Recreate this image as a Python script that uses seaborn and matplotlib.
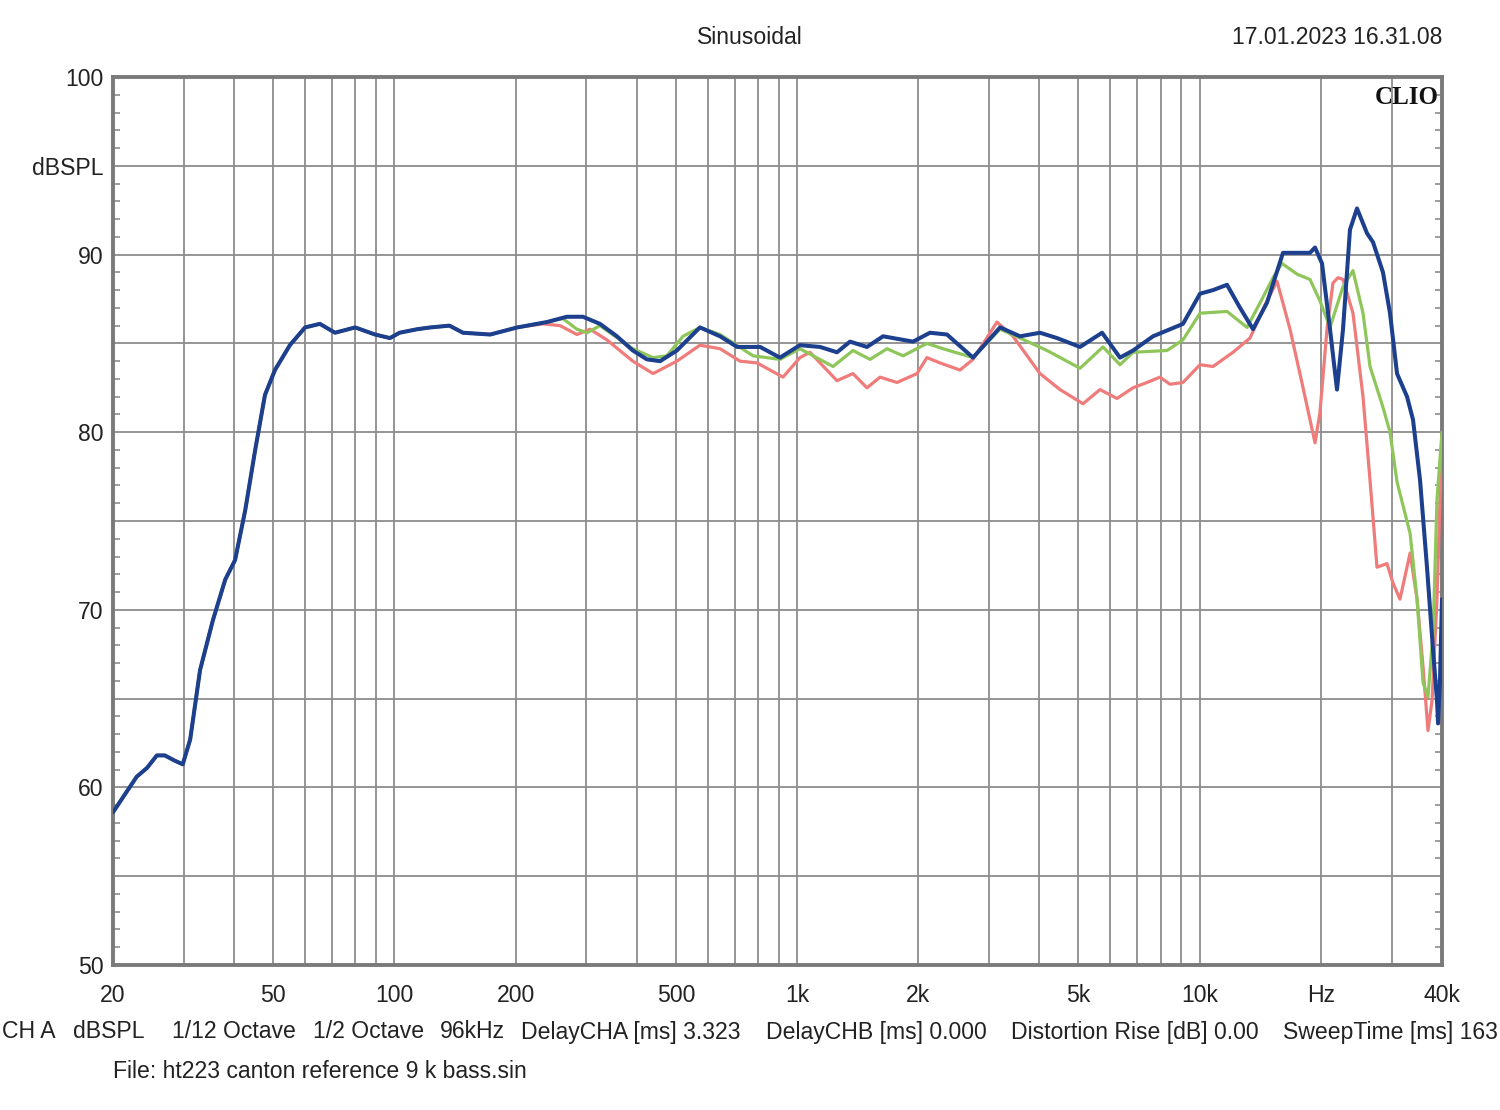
import matplotlib
matplotlib.use("Agg")
import matplotlib.pyplot as plt
import numpy as np
import pandas as pd
import seaborn as sns
from matplotlib.ticker import FixedLocator, MultipleLocator, NullFormatter

# ---- data ----
# common low-frequency part (all three curves overlap)
freq_low = [20, 21.4, 22.9, 24.3, 25.7, 26.9, 28.5, 29.8, 31.1, 32.9, 35.4, 38.0, 40.2,
            42.6, 45.1, 47.7, 50.5, 55.0, 60.0, 65.3, 71.2, 79.9, 89.5, 97.5, 103, 114,
            123, 137, 148, 173, 202]
spl_low = [58.6, 59.6, 60.6, 61.1, 61.8, 61.8, 61.5, 61.3, 62.7, 66.6, 69.4, 71.7, 72.8,
           75.6, 79.0, 82.1, 83.5, 84.9, 85.9, 86.1, 85.6, 85.9, 85.5, 85.3, 85.6, 85.8,
           85.9, 86.0, 85.6, 85.5, 85.9]

freq_blue_hi = [239, 268, 294, 324, 357, 391, 424, 457, 503, 574, 644, 710, 810, 907, 1017,
                1141, 1257, 1354, 1492, 1636, 1942, 2139, 2358, 2736, 3194, 3581, 4014,
                4424, 5046, 5724, 6342, 6834, 7662, 9092, 10024, 10796, 11696, 12604,
                13572, 14706, 16110, 18800, 19350, 20140, 21080, 21940, 22710, 23630,
                24600, 26050, 26960, 28540, 29710, 30930, 32750, 33890, 35280, 36710,
                38010, 38870, 39110, 39540, 40000]
spl_blue_hi = [86.2, 86.5, 86.5, 86.1, 85.4, 84.6, 84.1, 84.0, 84.6, 85.9, 85.4, 84.8, 84.8,
               84.2, 84.9, 84.8, 84.5, 85.1, 84.8, 85.4, 85.1, 85.6, 85.5, 84.2, 85.9, 85.4,
               85.6, 85.3, 84.8, 85.6, 84.2, 84.6, 85.4, 86.1, 87.8, 88.0, 88.3, 87.0, 85.8,
               87.3, 90.1, 90.1, 90.4, 89.5, 85.8, 82.4, 85.8, 91.4, 92.6, 91.2, 90.7, 89.0,
               86.7, 83.3, 82.0, 80.7, 77.3, 72.4, 67.7, 64.9, 63.6, 66.0, 70.6]

freq_green_hi = [239, 262, 284, 301, 324, 391, 439, 475, 521, 574, 644, 778, 907, 1017, 1229,
                 1377, 1519, 1673, 1834, 2103, 2305, 2736, 3194, 3581, 4178, 5046, 5755,
                 6342, 6834, 8300, 9092, 10024, 11696, 13116, 14370, 15220, 16020, 17460,
                 18800, 19900, 21080, 22710, 24040, 25460, 26500, 28540, 29710, 30930,
                 33330, 34680, 35890, 36920, 38010, 38870, 40000]
spl_green_hi = [86.2, 86.4, 85.8, 85.6, 86.0, 84.7, 84.2, 84.3, 85.4, 85.9, 85.5, 84.3, 84.1,
                84.7, 83.7, 84.6, 84.1, 84.7, 84.3, 85.0, 84.7, 84.2, 85.8, 85.3, 84.6, 83.6,
                84.8, 83.8, 84.5, 84.6, 85.2, 86.7, 86.8, 85.9, 87.6, 88.7, 89.5, 88.9,
                88.6, 87.4, 85.9, 88.2, 89.1, 86.7, 83.7, 81.4, 80.0, 77.2, 74.3, 70.6,
                65.9, 65.1, 68.7, 76.2, 80.0]

freq_red_hi = [234, 258, 284, 306, 337, 391, 439, 503, 574, 644, 722, 796, 923, 1017, 1077,
               1257, 1377, 1492, 1608, 1772, 1986, 2103, 2266, 2540, 2736, 3138, 3440,
               4014, 4501, 5133, 5657, 6234, 6834, 7402, 7972, 8443, 9092, 10024, 10796,
               12106, 13340, 14706, 15570, 16770, 18070, 19350, 19900, 20720, 21440,
               22060, 22710, 24040, 25460, 26500, 27580, 29200, 30230, 31460, 33330,
               34680, 35890, 36920, 37790, 38870, 39540, 40000]
spl_red_hi = [86.1, 86.0, 85.5, 85.8, 85.2, 84.0, 83.3, 84.0, 84.9, 84.7, 84.0, 83.9, 83.1,
              84.2, 84.5, 82.9, 83.3, 82.5, 83.1, 82.8, 83.3, 84.2, 83.9, 83.5, 84.1, 86.2,
              85.4, 83.3, 82.4, 81.6, 82.4, 81.9, 82.5, 82.8, 83.1, 82.7, 82.8, 83.8, 83.7,
              84.5, 85.3, 87.4, 88.5, 85.8, 82.5, 79.4, 81.1, 85.8, 88.4, 88.7, 88.6, 86.7,
              82.0, 77.3, 72.4, 72.6, 71.5, 70.6, 73.2, 70.6, 66.8, 63.2, 64.9, 70.6, 76.2,
              79.0]

x_grid = [20, 30, 40, 50, 60, 70, 80, 90, 100, 200, 300, 400, 500, 600, 700, 800, 900,
          1000, 2000, 3000, 4000, 5000, 6000, 7000, 8000, 9000, 10000, 20000, 30000, 40000]
x_labels = {20: "20", 50: "50", 100: "100", 200: "200", 500: "500", 1000: "1k",
            2000: "2k", 5000: "5k", 10000: "10k", 20000: "Hz", 40000: "40k"}
y_ticks = [50, 55, 60, 65, 70, 75, 80, 85, 90, 95, 100]
y_labels = ["50", "", "60", "", "70", "", "80", "", "90", "dBSPL", "100"]

footer_items = [("CH A", 2), ("dBSPL", 73), ("1/12 Octave", 172), ("1/2 Octave", 313),
                ("96kHz", 440), ("DelayCHA [ms] 3.323", 521), ("DelayCHB [ms] 0.000", 766),
                ("Distortion Rise [dB] 0.00", 1011), ("SweepTime [ms] 163", 1283)]

colors = {"red": "#ef7b7b", "green": "#8fc65a", "blue": "#1c3f8e"}

# ---- build tables ----
def curve(name, f_hi, s_hi):
    return pd.DataFrame({"freq": list(freq_low) + list(f_hi),
                         "spl": list(spl_low) + list(s_hi),
                         "curve": name})

df_red = curve("red", freq_red_hi, spl_red_hi)
df_green = curve("green", freq_green_hi, spl_green_hi)
df_blue = curve("blue", freq_blue_hi, spl_blue_hi)

sns.set_style("white")
plt.rcParams["font.family"] = ["Liberation Sans", "DejaVu Sans"]

FS = 16.6
W, H = 1500, 1110
fig = plt.figure(figsize=(W / 100, H / 100), dpi=100)
ax = fig.add_axes([113 / W, 1 - 965 / H, (1442 - 113) / W, (965 - 77) / H])

for d, lw in ((df_red, 2.3), (df_green, 2.3), (df_blue, 2.9)):
    sns.lineplot(data=d, x="freq", y="spl", color=colors[d["curve"].iloc[0]], lw=lw,
                 sort=False, estimator=None, ax=ax, legend=False, zorder=3)

ax.set_xscale("log")
ax.set_xlim(20, 40000)
ax.set_ylim(50, 100)
ax.set_xlabel("")
ax.set_ylabel("")

ax.xaxis.set_major_locator(FixedLocator(x_grid))
ax.xaxis.set_minor_locator(FixedLocator([]))
ax.set_xticklabels([x_labels.get(v, "") for v in x_grid])
ax.set_yticks(y_ticks)
ax.set_yticklabels(y_labels)
ax.yaxis.set_minor_locator(MultipleLocator(1))

ax.grid(True, which="major", color="#8c8c8c", lw=1.3, zorder=1)
ax.tick_params(axis="both", which="major", length=0, labelsize=FS, colors="#222222")
ax.tick_params(axis="x", which="major", pad=14)
ax.tick_params(axis="y", which="major", pad=7)
ax.tick_params(axis="y", which="minor", direction="in", length=5, width=1.2,
               color="#8c8c8c", left=True, right=True)

for sp in ax.spines.values():
    sp.set_color("#7a7a7a")
    sp.set_linewidth(2.8)
    sp.set_visible(True)

fig.text(750 / W, 1 - 38 / H, "Sinusoidal", ha="center", va="center", fontsize=FS,
         color="#222222")
fig.text(1442 / W, 1 - 38 / H, "17.01.2023 16.31.08", ha="right", va="center",
         fontsize=FS, color="#222222")
ax.text(0.9975, 0.99, "CLIO", transform=ax.transAxes, ha="right", va="top",
        fontsize=18, fontweight="bold", family=["Liberation Serif", "DejaVu Serif"],
        color="#111111")

for txt, xp in footer_items:
    fig.text(xp / W, 1 - 1032 / H, txt, ha="left", va="center", fontsize=FS,
             color="#222222")
fig.text(113 / W, 1 - 1072 / H, "File: ht223 canton reference 9 k bass.sin", ha="left",
         va="center", fontsize=FS, color="#222222")

fig.savefig("out.png", dpi=100, facecolor="white")
